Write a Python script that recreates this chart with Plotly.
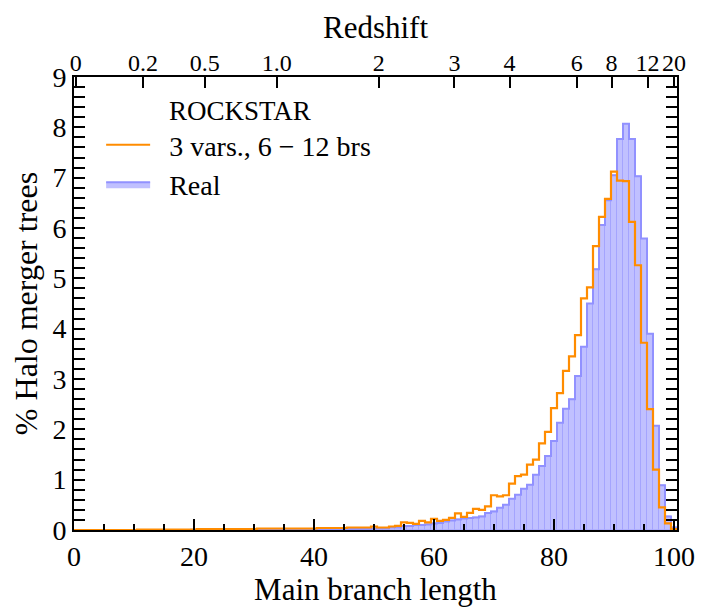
import plotly.graph_objects as go

"""
Main branch length histogram: real ROCKSTAR trees vs generated ones (3 vars., 6-12 brs)
"""

# bin centres (main branch length), one per integer
branch_len = list(range(0, 101))

real_pct = [
    0, 0, 0, 0, 0, 0, 0, 0, 0, 0,
    0, 0, 0, 0, 0, 0, 0, 0, 0, 0,
    0.005, 0.005, 0.005, 0.005, 0.005, 0.005, 0.005, 0.005, 0.005, 0.005,
    0.005, 0.005, 0.005, 0.005, 0.005, 0.01, 0.01, 0.01, 0.01, 0.01,
    0.01, 0.01, 0.01, 0.01, 0.01, 0.02, 0.02, 0.02, 0.02, 0.02,
    0.03, 0.03, 0.03, 0.05, 0.05, 0.08, 0.08, 0.10, 0.10, 0.11,
    0.13, 0.14, 0.17, 0.19, 0.21, 0.23, 0.24, 0.25, 0.27, 0.34,
    0.37, 0.44, 0.50, 0.62, 0.70, 0.82, 0.90, 1.10, 1.27, 1.47,
    1.77, 2.13, 2.41, 2.60, 3.06, 3.64, 4.50, 5.18, 6.06, 6.55,
    7.05, 7.77, 8.07, 7.77, 7.03, 5.79, 3.90, 2.07, 0.89, 0.27,
    0.05,
]

gen_pct = [
    0, 0, 0, 0, 0, 0, 0, 0, 0, 0,
    0, 0.01, 0.01, 0.01, 0.01, 0.01, 0.01, 0.01, 0.01, 0.01,
    0.01, 0.02, 0.02, 0.02, 0.02, 0.02, 0.02, 0.02, 0.02, 0.02,
    0.02, 0.03, 0.03, 0.03, 0.03, 0.03, 0.03, 0.03, 0.03, 0.03,
    0.03, 0.04, 0.04, 0.04, 0.04, 0.04, 0.05, 0.05, 0.05, 0.05,
    0.07, 0.05, 0.05, 0.07, 0.08, 0.15, 0.14, 0.12, 0.18, 0.15,
    0.22, 0.18, 0.20, 0.24, 0.33, 0.26, 0.34, 0.42, 0.40, 0.47,
    0.69, 0.67, 0.69, 0.92, 1.07, 1.10, 1.30, 1.40, 1.72, 1.95,
    2.42, 2.72, 3.16, 3.45, 3.87, 4.60, 4.82, 5.64, 6.22, 6.58,
    7.12, 6.94, 6.93, 6.12, 5.26, 3.72, 2.40, 1.20, 0.45, 0.13,
    0.02,
]

# top axis: redshift labels and where they sit on the branch length axis
z_labels = ['0', '0.2', '0.5', '1.0', '2', '3', '4', '6', '8', '12', '20']
z_pos = [0.3, 11.5, 21.8, 33.8, 50.8, 63.4, 72.6, 83.8, 89.6, 95.6, 100.0]

FONT = 'Liberation Serif'
PAD = '\u00a0\u00a0'  # little gap between legend symbol and text


def stepPoints(centres, vals):
    # left bin edges + closing edge, for an 'hv' step outline that drops to zero
    edges = [c - 0.5 for c in centres] + [centres[-1] + 0.5, centres[-1] + 0.5]
    ys = list(vals) + [vals[-1], 0]
    edges = [max(e, 0) for e in edges]
    return edges, ys


fig = go.Figure()

# faint bar edges inside the filled histogram
fig.add_trace(go.Bar(x=branch_len, y=real_pct, width=1,
                     marker=dict(color='rgba(0,0,0,0)',
                                 line=dict(color='rgba(150,150,250,0.35)', width=1)),
                     showlegend=False, hoverinfo='skip'))

rx, ry = stepPoints(branch_len, real_pct)
fig.add_trace(go.Scatter(x=rx, y=ry, name=PAD + 'Real', mode='lines', line_shape='hv',
                         line=dict(color='rgb(145,145,255)', width=2),
                         fill='tozeroy', fillcolor='rgba(140,140,255,0.55)',
                         legendrank=2))

gx, gy = stepPoints(branch_len, gen_pct)
fig.add_trace(go.Scatter(x=gx, y=gy, name=PAD + '3 vars., 6 \u2212 12 brs', mode='lines',
                         line_shape='hv', line=dict(color='#ff8c00', width=2.2),
                         legendrank=1))

fig.update_layout(
    width=707, height=616,
    margin=dict(l=66, r=38, t=69, b=94),
    paper_bgcolor='white', plot_bgcolor='white',
    font=dict(family=FONT, size=28, color='black'),
    bargap=0,
    showlegend=True,
    legend=dict(x=0.045, y=0.905, xanchor='left', yanchor='top',
                bgcolor='rgba(0,0,0,0)', font=dict(family=FONT, size=28),
                itemwidth=44),
    xaxis=dict(range=[0, 100.5], dtick=20, tick0=0, ticks='inside', ticklen=11,
               tickwidth=1.5, tickcolor='black', showline=True, linewidth=2,
               linecolor='black', mirror=True, showgrid=False, zeroline=False,
               tickfont=dict(size=28),
               minor=dict(dtick=5, ticks='inside', ticklen=6, tickwidth=1.5,
                          tickcolor='black'),
               title=dict(text='Main branch length', font=dict(size=31), standoff=0)),
    xaxis2=dict(overlaying='x', side='top', range=[0, 100.5], tickmode='array',
                tickvals=z_pos, ticktext=z_labels, ticks='inside', ticklen=11,
                tickwidth=1.5, tickcolor='black', showgrid=False, zeroline=False,
                tickfont=dict(size=24), tickangle=0,
                title=dict(text='Redshift', font=dict(size=31), standoff=2)),
    yaxis=dict(range=[0, 9], dtick=1, ticks='inside', ticklen=11, tickwidth=1.5,
               tickcolor='black', showline=True, linewidth=2, linecolor='black',
               mirror='allticks', showgrid=False, zeroline=False,
               tickfont=dict(size=28),
               minor=dict(dtick=0.2, ticks='inside', ticklen=6, tickwidth=1.5,
                          tickcolor='black'),
               title=dict(text='% Halo merger trees', font=dict(size=32), standoff=6)),
)

# dummy trace so the redshift axis gets drawn
fig.add_trace(go.Scatter(x=z_pos, y=[None] * len(z_pos), xaxis='x2',
                         showlegend=False, hoverinfo='skip'))

fig.add_annotation(text='ROCKSTAR', xref='paper', yref='paper', x=0.155, y=0.962,
                   xanchor='left', yanchor='top', showarrow=False,
                   font=dict(family=FONT, size=27))

fig.write_html('out.html')
